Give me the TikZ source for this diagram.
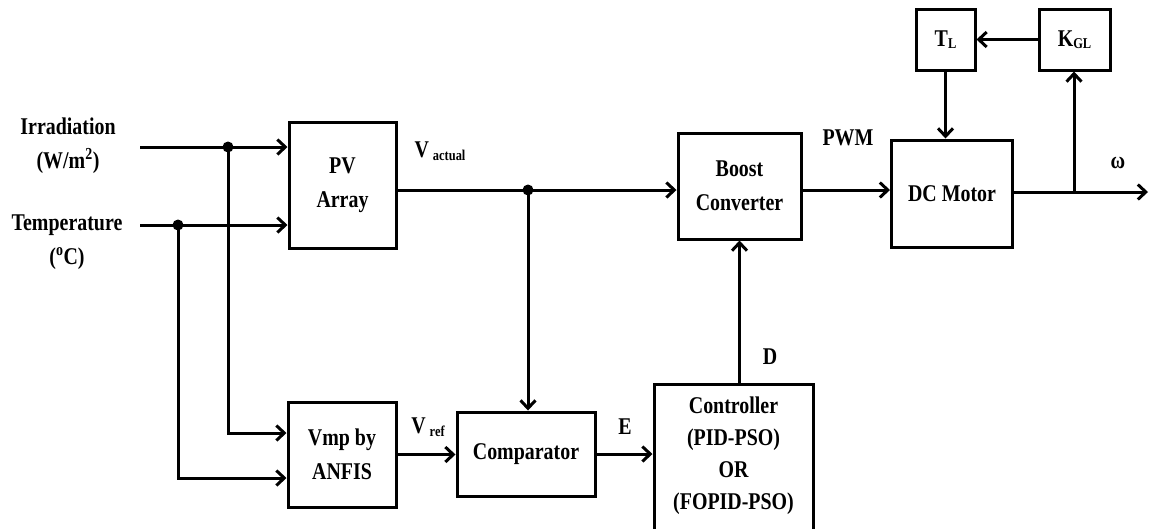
\documentclass[tikz,border=0pt]{standalone}
\usepackage{fontspec}
\setmainfont{Liberation Serif}[FakeStretch=0.83]
\usetikzlibrary{arrows.meta}
\newcommand\lowsub[2][-3pt]{\raisebox{#1}{\fontsize{15}{15}\selectfont #2}}
\begin{document}
\begin{tikzpicture}[x=1pt,y=-1pt,
  txt/.style={font=\fontsize{24}{34}\selectfont\bfseries, align=center, inner sep=0pt},
  blk/.style={txt, draw, line width=3pt, minimum width=#1},
  conn/.style={line width=3pt},
  arr/.style={conn, -{Straight Barb[length=8pt,width=15pt]}},
  dot/.style={circle, fill, inner sep=0pt, minimum size=11pt}]
\useasboundingbox (0,0) rectangle (1150,528);
% blocks
\node[blk=107pt, minimum height=126pt] (pv) at (342.5,185) {PV\\Array};
\node[blk=108pt, minimum height=105pt] (vmp) at (342,454.5) {Vmp by\\ANFIS};
\node[blk=138pt, minimum height=84pt] (comp) at (526,454) {Comparator};
\node[blk=159pt, minimum height=160pt] (ctrl) at (733.5,464) {};
\node[txt, font=\fontsize{24}{32}\selectfont\bfseries] (ctrlt) at (733.5,456) {Controller\\(PID-PSO)\\OR\\(FOPID-PSO)};
\node[blk=123pt, minimum height=106pt] (boost) at (739.5,186) {Boost\\Converter};
\node[blk=121pt, minimum height=107pt] (dc) at (952,193.5) {DC Motor};
\node[blk=59pt, minimum height=61pt] (tl) at (945.5,39.5) {T\lowsub[-2pt]{L}};
\node[blk=71pt, minimum height=61pt] (kgl) at (1074.5,39.5) {K\lowsub[-2pt]{GL}};
% labels
\node[txt] (irr) at (68,146) {Irradiation\\(W/m\textsuperscript{2})};
\node[txt] (tmp) at (67,242) {Temperature\\(\textsuperscript{o}C)};
\node[txt] (va) at (440,151) {V\,\lowsub{actual}};
\node[txt] (vr) at (428,427) {V\,\lowsub{ref}};
\node[txt] (el) at (625,427) {E};
\node[txt] (dl) at (770,357) {D};
\node[txt] (pwm) at (848,138) {PWM};
\node[txt] (om) at (1118,163) {ω};
% coordinates
\coordinate (irrS) at (140,147);
\coordinate (tmpS) at (140,225);
\coordinate (d1) at (228,147);
\coordinate (d2) at (178,225);
\coordinate (in1) at (289,433);
\coordinate (in2) at (289,478);
\coordinate (j1) at (528,190);
\coordinate (o1) at (1074,192);
\coordinate (oe) at (1148,192);
% connectors
\draw[arr] (irrS) -- (pv.west |- d1);
\draw[arr] (tmpS) -- (pv.west |- d2);
\draw[arr] (d1) |- (vmp.west |- in1);
\draw[arr] (d2) |- (vmp.west |- in2);
\draw[conn] (pv.east |- j1) -- (j1);
\draw[arr] (j1) -- (boost.west |- j1);
\draw[arr] (j1) -- (j1 |- comp.north);
\draw[arr] (vmp.east) -- (comp.west |- vmp.east);
\draw[arr] (comp.east) -- (ctrl.west |- comp.east);
\draw[arr] (ctrl.north -| boost.south) -- (boost.south);
\draw[arr] (boost.east |- j1) -- (dc.west |- j1);
\draw[conn] (dc.east |- o1) -- (o1);
\draw[arr] (o1) -- (oe);
\draw[arr] (o1) -- (o1 |- kgl.south);
\draw[arr] (kgl.west) -- (tl.east);
\draw[arr] (tl.south) -- (tl.south |- dc.north);
\node[dot] (n1) at (d1) {};
\node[dot] (n2) at (d2) {};
\node[dot] (n3) at (j1) {};
\end{tikzpicture}
\end{document}
